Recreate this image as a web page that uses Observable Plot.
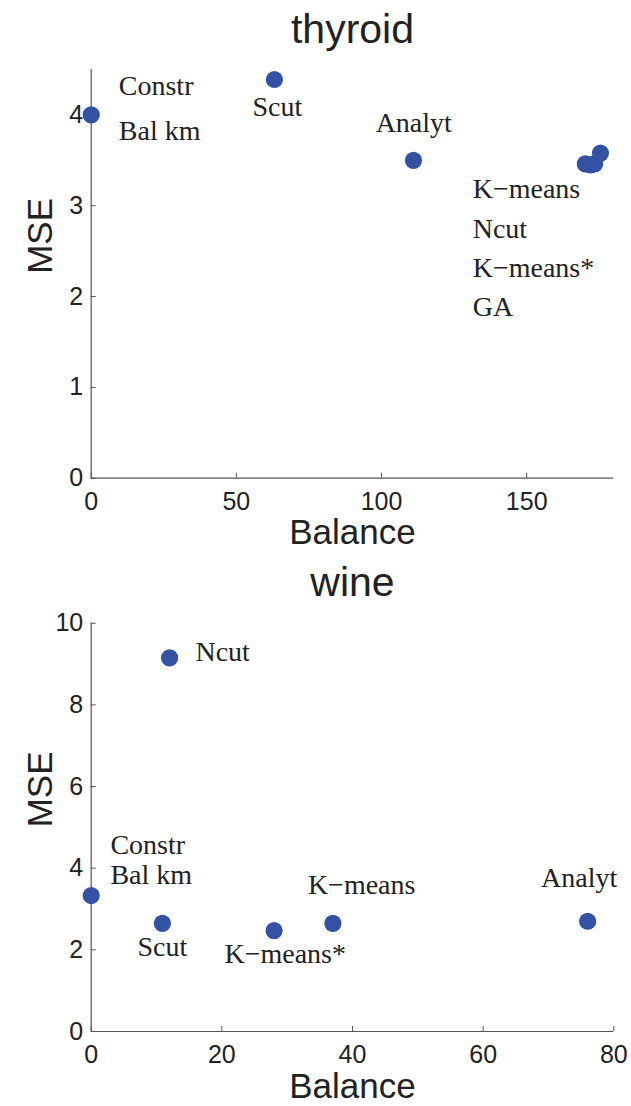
<!DOCTYPE html>
<html>
<head>
<meta charset="utf-8">
<script src="https://cdn.jsdelivr.net/npm/d3@7"></script>
<script src="https://cdn.jsdelivr.net/npm/@observablehq/plot@0.6"></script>
<style>
  html, body { margin: 0; padding: 0; background: #fff; }
  svg { display: block; }
</style>
</head>
<body>
<div id="chart"></div>
<script>
// ---------- thyroid ----------
const thyroidMethods = ["Constr", "Scut", "Analyt", "K-means", "Ncut", "K-means*", "GA"];
const thyroidBalance = [0, 63.1, 111.0, 170.2, 173.4, 175.4, 172.0];
const thyroidMSE     = [4.0, 4.39, 3.50, 3.46, 3.46, 3.58, 3.45];

const thyroidLabelText    = ["Constr", "Bal km", "Scut", "Analyt", "K\u2212means", "Ncut", "K\u2212means*", "GA"];
const thyroidLabelBalance = [9.5, 9.5, 64.1, 111.1, 131.4, 131.4, 131.4, 131.4];
const thyroidLabelMSE     = [4.32, 3.82, 4.09, 3.91, 3.18, 2.74, 2.31, 1.89];
const thyroidXTicks = [0, 50, 100, 150];
const thyroidYTicks = [0, 1, 2, 3, 4];

// ---------- wine ----------
const wineMethods = ["Constr", "Scut", "K-means*", "K-means", "Analyt", "Ncut"];
const wineBalance = [0, 10.9, 28.0, 37.0, 76.0, 12.0];
const wineMSE     = [3.33, 2.65, 2.47, 2.65, 2.70, 9.15];

const wineLabelText    = ["Ncut", "Constr", "Bal km", "Scut", "K\u2212means*", "K\u2212means", "Analyt"];
const wineLabelBalance = [15.96, 2.94, 2.94, 10.9, 29.7, 41.4, 74.7];
const wineLabelMSE     = [9.29, 4.56, 3.84, 2.06, 1.89, 3.59, 3.75];
const wineXTicks = [0, 20, 40, 60, 80];
const wineYTicks = [0, 2, 4, 6, 8, 10];

// labels whose anchor is their left edge (others are centred), per panel
const thyroidLeft = new Set(["Constr", "Bal km", "K\u2212means", "Ncut", "K\u2212means*", "GA"]);
const wineLeft = new Set(["Ncut", "Constr", "Bal km"]);

const SANS = "'Liberation Sans', Arial, Helvetica, sans-serif";
const SERIF = "'Liberation Serif', 'Times New Roman', Times, serif";
const DOT = "#3452a4";
const AXIS = "#555";
const INK = "#222";

function panel({title, methods, balance, mse, lText, lBal, lMse, leftSet, xDomain, yDomain, xTicks, yTicks,
                height, marginTop, marginBottom}) {
  const width = 631, marginLeft = 90.7, marginRight = 17.7;
  const plotW = width - marginLeft - marginRight;
  const plotH = height - marginTop - marginBottom;
  const pts = methods.map((m, i) => ({m, x: balance[i], y: mse[i]}));
  const labs = lText.map((t, i) => ({t, x: lBal[i], y: lMse[i]}));
  return Plot.plot({
    width, height, marginLeft, marginRight, marginTop, marginBottom,
    style: {fontFamily: SANS, background: "#fff", overflow: "visible"},
    x: {domain: xDomain, axis: null},
    y: {domain: yDomain, axis: null},
    marks: [
      Plot.ruleY([yDomain[0]], {stroke: AXIS, strokeWidth: 1.2}),
      Plot.ruleX([xDomain[0]], {stroke: AXIS, strokeWidth: 1.2}),
      Plot.tickX(xTicks, {x: d => d, insetTop: plotH - 5, stroke: AXIS}),
      Plot.tickY(yTicks, {y: d => d, insetRight: plotW - 5, stroke: AXIS}),
      Plot.axisX({ticks: xTicks, tickSize: 0, tickPadding: 14, fontSize: 25, label: null, fill: INK, tickFormat: d => d}),
      Plot.axisY({ticks: yTicks, tickSize: 0, tickPadding: 8, fontSize: 25, label: null, fill: INK, tickFormat: d => d}),
      Plot.dot(pts, {x: "x", y: "y", r: 8.6, fill: DOT, stroke: null}),
      Plot.text(labs.filter(d => leftSet.has(d.t)), {x: "x", y: "y", text: "t", textAnchor: "start",
        fontFamily: SERIF, fontSize: 28, fill: INK}),
      Plot.text(labs.filter(d => !leftSet.has(d.t)), {x: "x", y: "y", text: "t", textAnchor: "middle",
        fontFamily: SERIF, fontSize: 28, fill: INK}),
      Plot.text([title], {frameAnchor: "top", lineAnchor: "middle", dy: -40, fontSize: 41, fill: INK, fontFamily: SANS}),
      Plot.text(["Balance"], {frameAnchor: "bottom", lineAnchor: "middle", dy: 55, fontSize: 35, fill: INK, fontFamily: SANS}),
      Plot.text(["MSE"], {frameAnchor: "left", lineAnchor: "middle", dx: -50, rotate: -90, fontSize: 35, fill: INK, fontFamily: SANS})
    ]
  });
}

const root = document.getElementById("chart");
root.append(panel({
  title: "thyroid", methods: thyroidMethods, balance: thyroidBalance, mse: thyroidMSE,
  lText: thyroidLabelText, lBal: thyroidLabelBalance, lMse: thyroidLabelMSE, leftSet: thyroidLeft,
  xDomain: [0, 180], yDomain: [0, 4.5], xTicks: thyroidXTicks, yTicks: thyroidYTicks,
  height: 555, marginTop: 69, marginBottom: 77.3
}));
root.append(panel({
  title: "wine", methods: wineMethods, balance: wineBalance, mse: wineMSE,
  lText: wineLabelText, lBal: wineLabelBalance, lMse: wineLabelMSE, leftSet: wineLeft,
  xDomain: [0, 80], yDomain: [0, 10], xTicks: wineXTicks, yTicks: wineYTicks,
  height: 551, marginTop: 67.7, marginBottom: 75
}));
</script>
</body>
</html>
